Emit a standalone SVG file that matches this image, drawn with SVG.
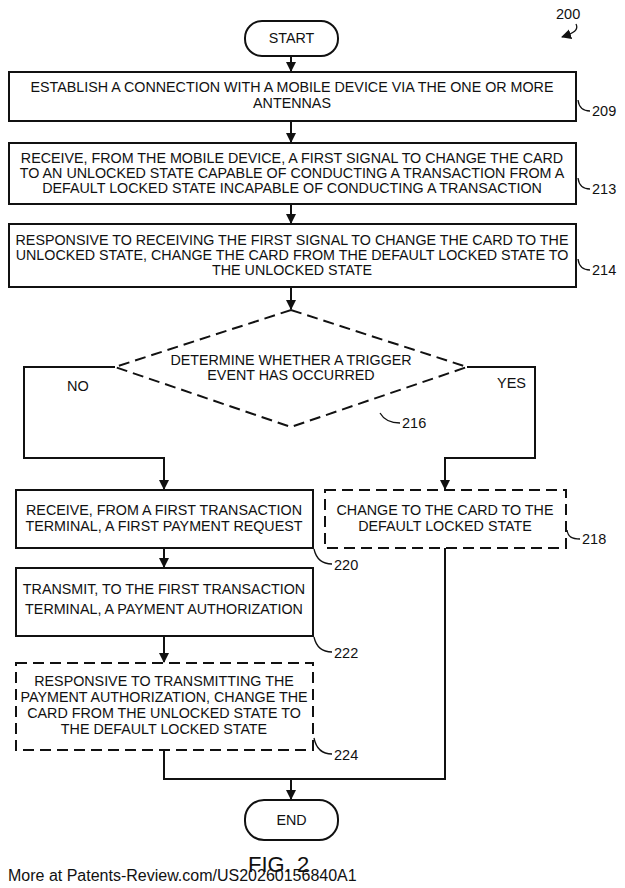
<svg xmlns="http://www.w3.org/2000/svg" width="625" height="888" viewBox="0 0 625 888">
<style>
.b{fill:#fff;stroke:#111;stroke-width:2}
.d{fill:#fff;stroke:#111;stroke-width:2;stroke-dasharray:11 6}
.t{font-family:"Liberation Sans",Arial,sans-serif;font-size:14.3px;fill:#111;text-anchor:middle}
.l{font-family:"Liberation Sans",Arial,sans-serif;font-size:14.5px;fill:#111}
.c{fill:none;stroke:#111;stroke-width:2}
.ld{fill:none;stroke:#111;stroke-width:1.3}
</style>
<defs>
<marker id="a" markerWidth="10" markerHeight="12" refX="9" refY="5" orient="auto" markerUnits="userSpaceOnUse">
<path d="M0,0 L10,5 L0,10 Z" fill="#111"/>
</marker>
</defs>
<g id="label200">
<text class="l" x="556" y="19">200</text>
<path class="ld" d="M576,24 C579,30 574,33 562,37" marker-end="url(#a)"/>
</g>
<g id="start">
<rect class="b" x="245" y="21" width="93" height="35" rx="17" ry="17"/>
<text class="t" x="291.5" y="43">START</text>
</g>
<g id="n209">
<rect class="b" x="9" y="72" width="567" height="49"/>
<text class="t" x="292" y="92">ESTABLISH A CONNECTION WITH A MOBILE DEVICE VIA THE ONE OR MORE</text>
<text class="t" x="292" y="108">ANTENNAS</text>
<path class="ld" d="M578,100 C579,108 583,111 590,111"/>
<text class="l" x="592" y="116">209</text>
</g>
<g id="n213">
<rect class="b" x="9" y="143" width="567" height="61"/>
<text class="t" x="292" y="163">RECEIVE, FROM THE MOBILE DEVICE, A FIRST SIGNAL TO CHANGE THE CARD</text>
<text class="t" x="292" y="178">TO AN UNLOCKED STATE CAPABLE OF CONDUCTING A TRANSACTION FROM A</text>
<text class="t" x="292" y="193">DEFAULT LOCKED STATE INCAPABLE OF CONDUCTING A TRANSACTION</text>
<path class="ld" d="M578,178 C579,186 583,189 590,189"/>
<text class="l" x="592" y="194">213</text>
</g>
<g id="n214">
<rect class="b" x="9" y="224" width="567" height="63"/>
<text class="t" x="292" y="245">RESPONSIVE TO RECEIVING THE FIRST SIGNAL TO CHANGE THE CARD TO THE</text>
<text class="t" x="292" y="260">UNLOCKED STATE, CHANGE THE CARD FROM THE DEFAULT LOCKED STATE TO</text>
<text class="t" x="292" y="275">THE UNLOCKED STATE</text>
<path class="ld" d="M578,259 C579,267 583,270 590,270"/>
<text class="l" x="592" y="275">214</text>
</g>
<g id="n216">
<polygon class="d" points="291,310 467,367 291,427 115,367"/>
<text class="t" x="291" y="365">DETERMINE WHETHER A TRIGGER</text>
<text class="t" x="291" y="380">EVENT HAS OCCURRED</text>
<path class="ld" d="M380,413 C384,420 390,423 400,423"/>
<text class="l" x="402" y="428">216</text>
</g>
<g id="n220">
<rect class="b" x="16" y="490" width="297" height="58"/>
<text class="t" x="164" y="515">RECEIVE, FROM A FIRST TRANSACTION</text>
<text class="t" x="164" y="531">TERMINAL, A FIRST PAYMENT REQUEST</text>
<path class="ld" d="M314,549 C316,558 322,564 332,564"/>
<text class="l" x="334" y="570">220</text>
</g>
<g id="n218">
<rect class="d" x="325" y="490" width="241" height="58"/>
<text class="t" x="445" y="515">CHANGE TO THE CARD TO THE</text>
<text class="t" x="445" y="531">DEFAULT LOCKED STATE</text>
<path class="ld" d="M567,530 C568,537 572,539 580,539"/>
<text class="l" x="582" y="544">218</text>
</g>
<g id="n222">
<rect class="b" x="16" y="568" width="297" height="68"/>
<text class="t" x="164" y="594">TRANSMIT, TO THE FIRST TRANSACTION</text>
<text class="t" x="164" y="614">TERMINAL, A PAYMENT AUTHORIZATION</text>
<path class="ld" d="M314,637 C316,646 322,652 332,652"/>
<text class="l" x="334" y="658">222</text>
</g>
<g id="n224">
<rect class="d" x="16" y="663" width="297" height="87"/>
<text class="t" x="164" y="686">RESPONSIVE TO TRANSMITTING THE</text>
<text class="t" x="164" y="702">PAYMENT AUTHORIZATION, CHANGE THE</text>
<text class="t" x="164" y="718">CARD FROM THE UNLOCKED STATE TO</text>
<text class="t" x="164" y="734">THE DEFAULT LOCKED STATE</text>
<path class="ld" d="M314,738 C316,748 322,754 332,754"/>
<text class="l" x="334" y="760">224</text>
</g>
<g id="end">
<rect class="b" x="245" y="800" width="93" height="40" rx="19" ry="19"/>
<text class="t" x="291.5" y="825">END</text>
</g>
<g id="connectors">
<path class="c" d="M291,56 V71" marker-end="url(#a)"/>
<path class="c" d="M291,121 V142" marker-end="url(#a)"/>
<path class="c" d="M291,204 V223" marker-end="url(#a)"/>
<path class="c" d="M291,287 V309" marker-end="url(#a)"/>
<path class="c" d="M115,367 H24 V458 H164 V489" marker-end="url(#a)"/>
<path class="c" d="M467,367 H535 V458 H445 V489" marker-end="url(#a)"/>
<path class="c" d="M164,548 V567" marker-end="url(#a)"/>
<path class="c" d="M164,636 V662" marker-end="url(#a)"/>
<path class="c" d="M164,750 V779 H445 V548"/>
<path class="c" d="M291,779 V799" marker-end="url(#a)"/>
<text class="l" x="67" y="391">NO</text>
<text class="l" x="497" y="388">YES</text>
</g>
<text x="248" y="872" style="font-family:'Liberation Sans',Arial,sans-serif;font-size:22px;fill:#111">FIG. 2</text>
<text x="8" y="881" style="font-family:'Liberation Sans',Arial,sans-serif;font-size:16px;fill:#111">More at Patents-Review.com/US20260156840A1</text>
</svg>
